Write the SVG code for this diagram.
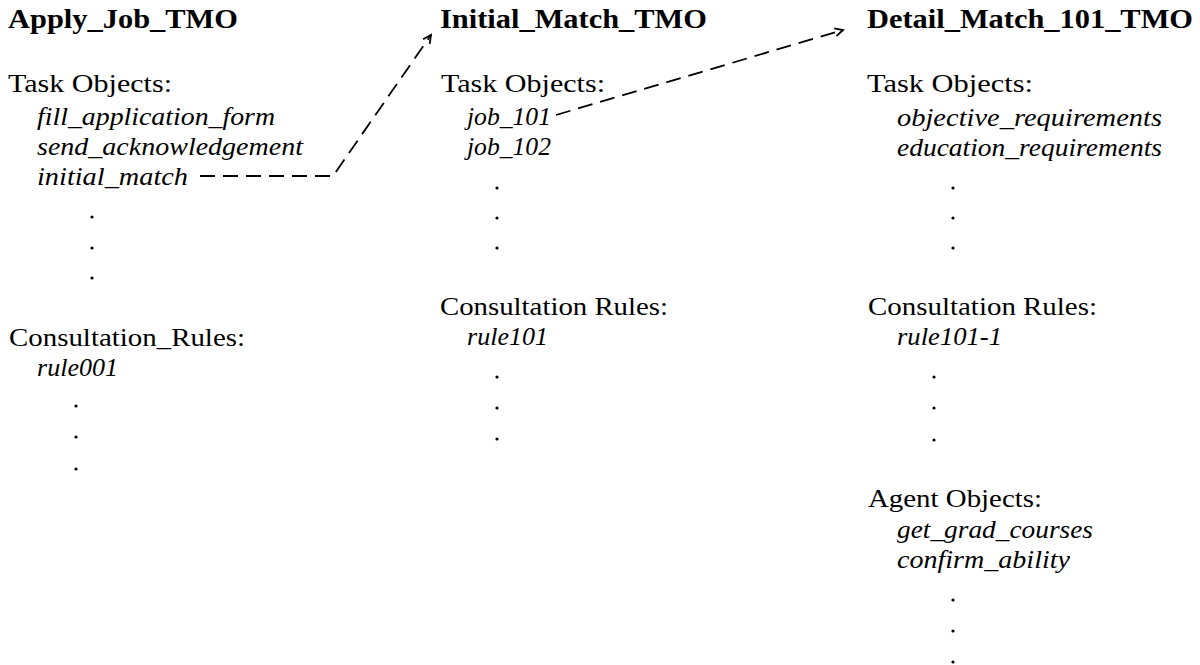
<svg xmlns="http://www.w3.org/2000/svg" width="1200" height="665" viewBox="0 0 1200 665">
  <style>
    text { font-family: "Liberation Serif", "Times New Roman", serif; fill: #000; }
    .title { font-size: 27px; font-weight: bold; }
    .head { font-size: 26px; }
    .item { font-size: 26px; font-style: italic; }
    .dot { fill: #000; }
    .link { fill: none; stroke: #000; stroke-width: 1.8; stroke-dasharray: 15 8; }
  </style>
  <defs>
    <marker id="open-arrow" viewBox="-10 -6 12 12" markerWidth="12" markerHeight="12" markerUnits="userSpaceOnUse" refX="0" refY="0" orient="auto">
      <path d="M -8 -4 L 0 0 L -8 4" fill="none" stroke="#000" stroke-width="1.8"/>
    </marker>
  </defs>
  <rect width="1200" height="665" fill="#fff"/>

  <!-- Apply_Job_TMO -->
  <g id="apply-job-tmo">
    <text class="title" x="8" y="28" textLength="230" lengthAdjust="spacingAndGlyphs">Apply_Job_TMO</text>
    <text class="head" x="8" y="92" textLength="164" lengthAdjust="spacingAndGlyphs">Task Objects:</text>
    <text class="item" x="37" y="125" textLength="238" lengthAdjust="spacingAndGlyphs">fill_application_form</text>
    <text class="item" x="37" y="155" textLength="266" lengthAdjust="spacingAndGlyphs">send_acknowledgement</text>
    <text class="item" x="37" y="185" textLength="151" lengthAdjust="spacingAndGlyphs">initial_match</text>
    <circle class="dot" cx="92" cy="217" r="1.6"/>
    <circle class="dot" cx="92" cy="248" r="1.6"/>
    <circle class="dot" cx="92" cy="278" r="1.6"/>
    <text class="head" x="9" y="346" textLength="236" lengthAdjust="spacingAndGlyphs">Consultation_Rules:</text>
    <text class="item" x="37" y="376" textLength="81" lengthAdjust="spacingAndGlyphs">rule001</text>
    <circle class="dot" cx="76" cy="406" r="1.6"/>
    <circle class="dot" cx="76" cy="437" r="1.6"/>
    <circle class="dot" cx="76" cy="469" r="1.6"/>
  </g>

  <!-- Initial_Match_TMO -->
  <g id="initial-match-tmo">
    <text class="title" x="440" y="28" textLength="267" lengthAdjust="spacingAndGlyphs">Initial_Match_TMO</text>
    <text class="head" x="441" y="92" textLength="164" lengthAdjust="spacingAndGlyphs">Task Objects:</text>
    <text class="item" x="467" y="125" textLength="84" lengthAdjust="spacingAndGlyphs">job_101</text>
    <text class="item" x="467" y="155" textLength="84" lengthAdjust="spacingAndGlyphs">job_102</text>
    <circle class="dot" cx="497" cy="188" r="1.6"/>
    <circle class="dot" cx="497" cy="218" r="1.6"/>
    <circle class="dot" cx="497" cy="248" r="1.6"/>
    <text class="head" x="440" y="315" textLength="228" lengthAdjust="spacingAndGlyphs">Consultation Rules:</text>
    <text class="item" x="467" y="345" textLength="81" lengthAdjust="spacingAndGlyphs">rule101</text>
    <circle class="dot" cx="497" cy="377" r="1.6"/>
    <circle class="dot" cx="497" cy="408" r="1.6"/>
    <circle class="dot" cx="497" cy="439" r="1.6"/>
  </g>

  <!-- Detail_Match_101_TMO -->
  <g id="detail-match-101-tmo">
    <text class="title" x="867" y="28" textLength="326" lengthAdjust="spacingAndGlyphs">Detail_Match_101_TMO</text>
    <text class="head" x="867" y="92" textLength="166" lengthAdjust="spacingAndGlyphs">Task Objects:</text>
    <text class="item" x="897" y="126" textLength="265" lengthAdjust="spacingAndGlyphs">objective_requirements</text>
    <text class="item" x="897" y="156" textLength="265" lengthAdjust="spacingAndGlyphs">education_requirements</text>
    <circle class="dot" cx="953" cy="188" r="1.6"/>
    <circle class="dot" cx="953" cy="218" r="1.6"/>
    <circle class="dot" cx="953" cy="248" r="1.6"/>
    <text class="head" x="868" y="315" textLength="229" lengthAdjust="spacingAndGlyphs">Consultation Rules:</text>
    <text class="item" x="897" y="345" textLength="105" lengthAdjust="spacingAndGlyphs">rule101-1</text>
    <circle class="dot" cx="934" cy="377" r="1.6"/>
    <circle class="dot" cx="934" cy="408" r="1.6"/>
    <circle class="dot" cx="934" cy="440" r="1.6"/>
    <text class="head" x="868" y="507" textLength="174" lengthAdjust="spacingAndGlyphs">Agent Objects:</text>
    <text class="item" x="897" y="538" textLength="196" lengthAdjust="spacingAndGlyphs">get_grad_courses</text>
    <text class="item" x="897" y="568" textLength="173" lengthAdjust="spacingAndGlyphs">confirm_ability</text>
    <circle class="dot" cx="953" cy="600" r="1.6"/>
    <circle class="dot" cx="953" cy="631" r="1.6"/>
    <circle class="dot" cx="953" cy="662" r="1.6"/>
  </g>

  <!-- dashed references between task objects -->
  <g id="connectors">
    <path class="link" d="M 200 176 H 333 L 431 35" marker-end="url(#open-arrow)"/>
    <path class="link" d="M 556 115 L 843 30" marker-end="url(#open-arrow)"/>
  </g>
</svg>
